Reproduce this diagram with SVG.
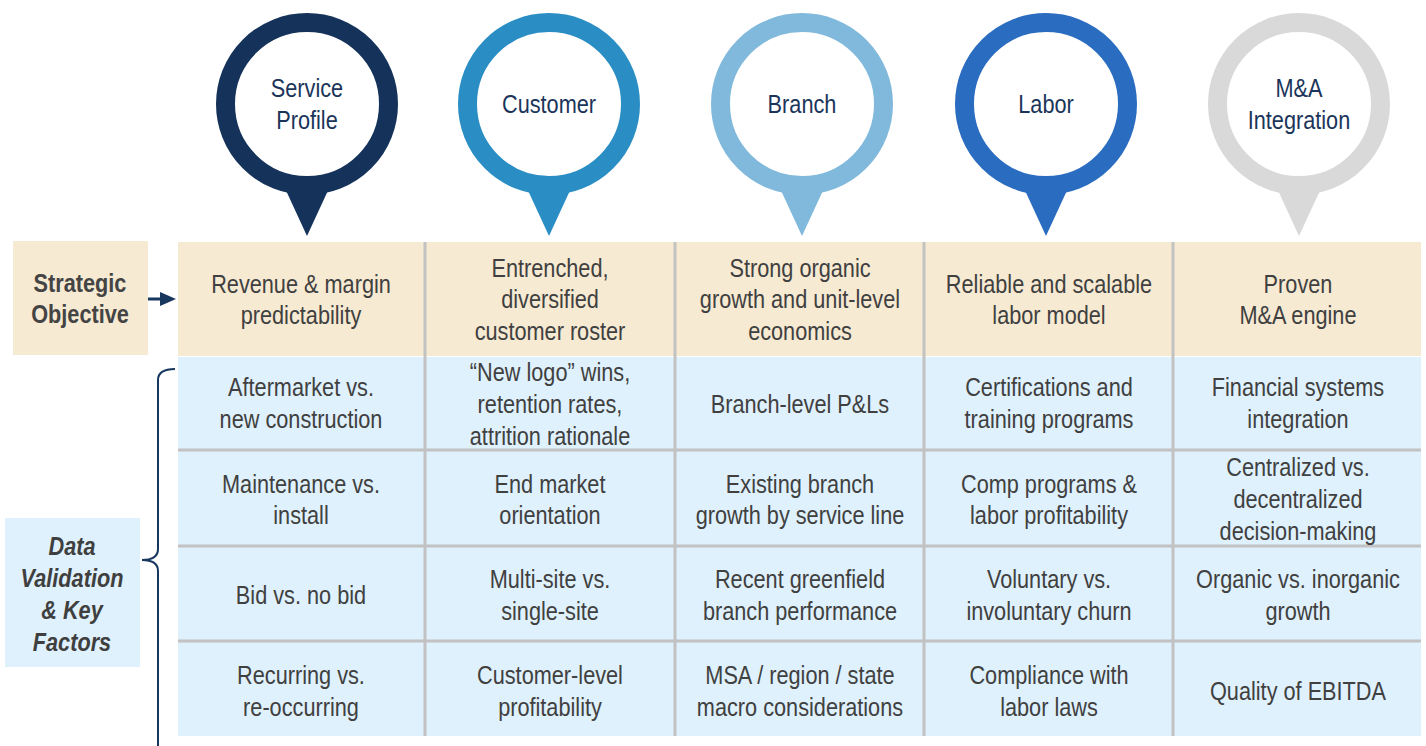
<svg xmlns="http://www.w3.org/2000/svg" width="1426" height="746" viewBox="0 0 1426 746">
<defs>
<style>
text{font-family:"Liberation Sans",Arial,sans-serif;font-size:26px;text-anchor:middle;fill:#404040}
.pin text{fill:#1b355a}
.lbl{font-weight:bold;fill:#444}
.dv{font-weight:bold;font-style:italic;fill:#3f3f3f}
.tan{fill:#f7ead3}
.blue{fill:#dff1fc}
.sep{stroke:#c2c2c2;stroke-width:3}
</style>
</defs>
<rect width="1426" height="746" fill="#fff"/>

<g id="pin-service" class="pin">
<polygon points="283,184 331,184 307,236" fill="#14325a"/>
<circle cx="307" cy="104" r="81.5" fill="#fff" stroke="#14325a" stroke-width="19"/>
<g transform="scale(0.835,1)"><text x="367.66" y="97">Service</text><text x="367.66" y="129">Profile</text></g>
</g>
<g id="pin-customer" class="pin">
<polygon points="525,184 573,184 549,236" fill="#2a8ec5"/>
<circle cx="549" cy="104" r="81.5" fill="#fff" stroke="#2a8ec5" stroke-width="19"/>
<g transform="scale(0.835,1)"><text x="657.49" y="113">Customer</text></g>
</g>
<g id="pin-branch" class="pin">
<polygon points="778,184 826,184 802,236" fill="#80b9dc"/>
<circle cx="802" cy="104" r="81.5" fill="#fff" stroke="#80b9dc" stroke-width="19"/>
<g transform="scale(0.835,1)"><text x="960.48" y="113">Branch</text></g>
</g>
<g id="pin-labor" class="pin">
<polygon points="1022,184 1070,184 1046,236" fill="#2a6cc0"/>
<circle cx="1046" cy="104" r="81.5" fill="#fff" stroke="#2a6cc0" stroke-width="19"/>
<g transform="scale(0.835,1)"><text x="1252.69" y="113">Labor</text></g>
</g>
<g id="pin-ma" class="pin">
<polygon points="1275,184 1323,184 1299,236" fill="#d9d9d9"/>
<circle cx="1299" cy="104" r="81.5" fill="#fff" stroke="#d9d9d9" stroke-width="19"/>
<g transform="scale(0.835,1)"><text x="1555.69" y="97">M&amp;A</text><text x="1555.69" y="129">Integration</text></g>
</g>

<g id="label-strategic">
<rect x="13" y="241" width="135" height="114" class="tan"/>
<g transform="scale(0.835,1)"><text class="lbl" x="95.81" y="292">Strategic</text><text class="lbl" x="95.81" y="323">Objective</text></g>
</g>
<g id="label-data">
<rect x="5" y="518" width="135" height="149" class="blue"/>
<g transform="scale(0.835,1)"><text class="dv" x="86.23" y="555">Data</text><text class="dv" x="86.23" y="587">Validation</text><text class="dv" x="86.23" y="619">&amp; Key</text><text class="dv" x="86.23" y="651">Factors</text></g>
</g>

<g id="grid">
<rect x="178" y="242" width="1243" height="114" class="tan"/>
<rect x="178" y="357" width="1243" height="379" class="blue"/>
<line class="sep" x1="178" y1="450" x2="1421" y2="450"/>
<line class="sep" x1="178" y1="546" x2="1421" y2="546"/>
<line class="sep" x1="178" y1="641" x2="1421" y2="641"/>
<line class="sep" x1="425" y1="242" x2="425" y2="736"/>
<line class="sep" x1="675" y1="242" x2="675" y2="736"/>
<line class="sep" x1="924" y1="242" x2="924" y2="736"/>
<line class="sep" x1="1173" y1="242" x2="1173" y2="736"/>
</g>

<g transform="scale(0.835,1)">
<g id="cells-objective">
<text x="360.48" y="293">Revenue &amp; margin</text><text x="360.48" y="324">predictability</text>
<text x="658.68" y="277">Entrenched,</text><text x="658.68" y="308">diversified</text><text x="658.68" y="340">customer roster</text>
<text x="958.08" y="277">Strong organic</text><text x="958.08" y="308">growth and unit-level</text><text x="958.08" y="340">economics</text>
<text x="1256.29" y="293">Reliable and scalable</text><text x="1256.29" y="324">labor model</text>
<text x="1554.49" y="293">Proven</text><text x="1554.49" y="324">M&amp;A engine</text>
</g>
<g id="cells-row1">
<text x="360.48" y="396">Aftermarket vs.</text><text x="360.48" y="428">new construction</text>
<text x="658.68" y="381">“New logo” wins,</text><text x="658.68" y="413">retention rates,</text><text x="658.68" y="445">attrition rationale</text>
<text x="958.08" y="413">Branch-level P&amp;Ls</text>
<text x="1256.29" y="396">Certifications and</text><text x="1256.29" y="428">training programs</text>
<text x="1554.49" y="396">Financial systems</text><text x="1554.49" y="428">integration</text>
</g>
<g id="cells-row2">
<text x="360.48" y="493">Maintenance vs.</text><text x="360.48" y="524">install</text>
<text x="658.68" y="493">End market</text><text x="658.68" y="524">orientation</text>
<text x="958.08" y="493">Existing branch</text><text x="958.08" y="524">growth by service line</text>
<text x="1256.29" y="493">Comp programs &amp;</text><text x="1256.29" y="524">labor profitability</text>
<text x="1554.49" y="476">Centralized vs.</text><text x="1554.49" y="508">decentralized</text><text x="1554.49" y="540">decision-making</text>
</g>
<g id="cells-row3">
<text x="360.48" y="604">Bid vs. no bid</text>
<text x="658.68" y="588">Multi-site vs.</text><text x="658.68" y="620">single-site</text>
<text x="958.08" y="588">Recent greenfield</text><text x="958.08" y="620">branch performance</text>
<text x="1256.29" y="588">Voluntary vs.</text><text x="1256.29" y="620">involuntary churn</text>
<text x="1554.49" y="588">Organic vs. inorganic</text><text x="1554.49" y="620">growth</text>
</g>
<g id="cells-row4">
<text x="360.48" y="684">Recurring vs.</text><text x="360.48" y="716">re-occurring</text>
<text x="658.68" y="684">Customer-level</text><text x="658.68" y="716">profitability</text>
<text x="958.08" y="684">MSA / region / state</text><text x="958.08" y="716">macro considerations</text>
<text x="1256.29" y="684">Compliance with</text><text x="1256.29" y="716">labor laws</text>
<text x="1554.49" y="700">Quality of EBITDA</text>
</g>
</g>

<g id="connectors">
<line x1="148" y1="299" x2="163" y2="299" stroke="#17375e" stroke-width="3"/>
<polygon points="160,292 176,299 160,306" fill="#17375e"/>
<path d="M175,369 Q158,369 158,380 L158,549 Q158,560 142,560 Q158,560 158,571 L158,746" fill="none" stroke="#17375e" stroke-width="2"/>
</g>
</svg>
